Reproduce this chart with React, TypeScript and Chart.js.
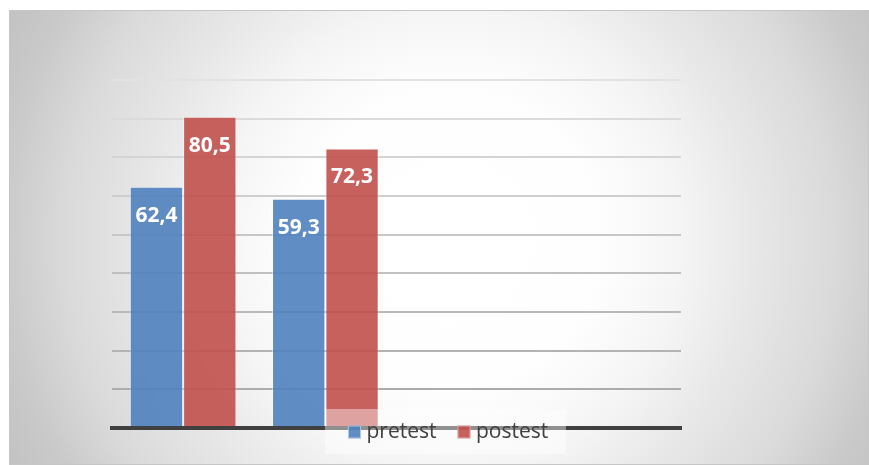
import React, { useEffect, useRef } from "react";
import { Chart, registerables } from "chart.js";

Chart.register(...registerables);

// Four category slots; only the first two carry measurements.
const categories = ["A", "B", "C", "D"];
const pretest: (number | null)[] = [62.4, 59.3, null, null];
const postest: (number | null)[] = [80.5, 72.3, null, null];
const seriesNames = ["pretest", "postest"];

const Y_MIN = 0;
const Y_MAX = 90;
const Y_STEP = 10;

const W = 869;
const H = 465;

const BLUE = "rgba(79, 129, 189, 0.9)";
const RED = "rgba(192, 80, 77, 0.9)";

const fmt = (v: number) => v.toFixed(1).replace(".", ",");

// Panel with a soft radial fill and thin frame.
const panelPlugin = {
  id: "panelBackground",
  beforeDraw(chart: any) {
    const { ctx } = chart;
    ctx.save();
    ctx.fillStyle = "#ffffff";
    ctx.fillRect(0, 0, W, H);
    const x0 = 9.5, y0 = 10.5, x1 = 868.5, y1 = 464.5;
    ctx.save();
    ctx.beginPath();
    ctx.rect(x0, y0, x1 - x0, y1 - y0);
    ctx.clip();
    const cx = 450, cy = 240;
    const g = ctx.createRadialGradient(cx, cy, 0, cx, cy, 500);
    g.addColorStop(0, "#ffffff");
    g.addColorStop(0.3, "#fefefe");
    g.addColorStop(0.46, "#f5f5f5");
    g.addColorStop(0.6, "#e8e8e8");
    g.addColorStop(0.77, "#dadada");
    g.addColorStop(0.9, "#c9c9c9");
    g.addColorStop(1, "#c2c2c2");
    ctx.fillStyle = g;
    ctx.fillRect(0, 0, W, H);
    ctx.restore();
    ctx.strokeStyle = "#c6c6c6";
    ctx.lineWidth = 1;
    ctx.strokeRect(x0, y0, x1 - x0, y1 - y0);
    ctx.restore();
  },
};

// White value labels inside the top of each bar.
const valueLabelPlugin = {
  id: "valueLabels",
  afterDatasetsDraw(chart: any) {
    const { ctx } = chart;
    ctx.save();
    ctx.fillStyle = "#ffffff";
    ctx.font = 'bold 21px "Open Sans"';
    ctx.textAlign = "center";
    ctx.textBaseline = "alphabetic";
    chart.data.datasets.forEach((ds: any, di: number) => {
      const meta = chart.getDatasetMeta(di);
      meta.data.forEach((bar: any, i: number) => {
        const v = ds.data[i];
        if (v == null) return;
        ctx.fillText(fmt(v), bar.x, bar.y + 35);
      });
    });
    ctx.restore();
  },
};

// Legend box laid over the baseline, below the second group.
const legendPlugin = {
  id: "overlayLegend",
  afterDraw(chart: any) {
    const { ctx } = chart;
    const colors = [BLUE, RED];
    ctx.save();
    ctx.fillStyle = "rgba(255, 255, 255, 0.42)";
    ctx.fillRect(325, 409, 241, 45);
    ctx.font = '21px "Open Sans"';
    ctx.textBaseline = "alphabetic";
    ctx.textAlign = "left";
    const markers = [348, 457.5];
    seriesNames.forEach((name, i) => {
      const mx = markers[i];
      ctx.fillStyle = colors[i];
      ctx.fillRect(mx, 425.5, 13, 13);
      ctx.strokeStyle = "rgba(255, 255, 255, 0.5)";
      ctx.lineWidth = 1;
      ctx.strokeRect(mx + 0.5, 426, 12, 12);
      ctx.fillStyle = "#404040";
      ctx.fillText(name, mx + 18.5, 437.5);
    });
    ctx.restore();
  },
};

export default function App() {
  const canvasRef = useRef<HTMLCanvasElement | null>(null);

  useEffect(() => {
    const canvas = canvasRef.current;
    if (!canvas) return;
    const chart = new Chart(canvas, {
      type: "bar",
      data: {
        labels: categories,
        datasets: [
          {
            label: seriesNames[0],
            data: pretest,
            backgroundColor: BLUE,
            borderColor: "rgba(255, 255, 255, 0.45)",
            borderWidth: 1,
          },
          {
            label: seriesNames[1],
            data: postest,
            backgroundColor: RED,
            borderColor: "rgba(255, 255, 255, 0.45)",
            borderWidth: 1,
          },
        ],
      },
      options: {
        responsive: false,
        animation: false,
        devicePixelRatio: 1,
        layout: { padding: { left: 112, right: 188, top: 80, bottom: 37 } },
        datasets: {
          bar: { barPercentage: 1, categoryPercentage: 0.75 },
        },
        plugins: {
          legend: { display: false },
          tooltip: { enabled: false },
          title: { display: false },
        },
        scales: {
          x: {
            grid: { display: false, drawTicks: false },
            ticks: { display: false },
            border: { display: true, color: "#404040", width: 4, z: 1 },
          },
          y: {
            min: Y_MIN,
            max: Y_MAX,
            ticks: { display: false, stepSize: Y_STEP },
            border: { display: false },
            grid: {
              drawTicks: false,
              lineWidth: 2,
              color: (ctx: any) => {
                const t = (ctx.tick?.value ?? 0) / Y_MAX;
                const c = Math.round(165 + t * (226 - 165));
                return `rgb(${c}, ${c}, ${c})`;
              },
            },
          },
        },
      },
      plugins: [panelPlugin, valueLabelPlugin, legendPlugin],
    });
    return () => chart.destroy();
  }, []);

  return (
    <div style={{ position: "absolute", left: 0, top: 0, width: W, height: H }}>
      <canvas ref={canvasRef} width={W} height={H} style={{ display: "block" }} />
    </div>
  );
}
